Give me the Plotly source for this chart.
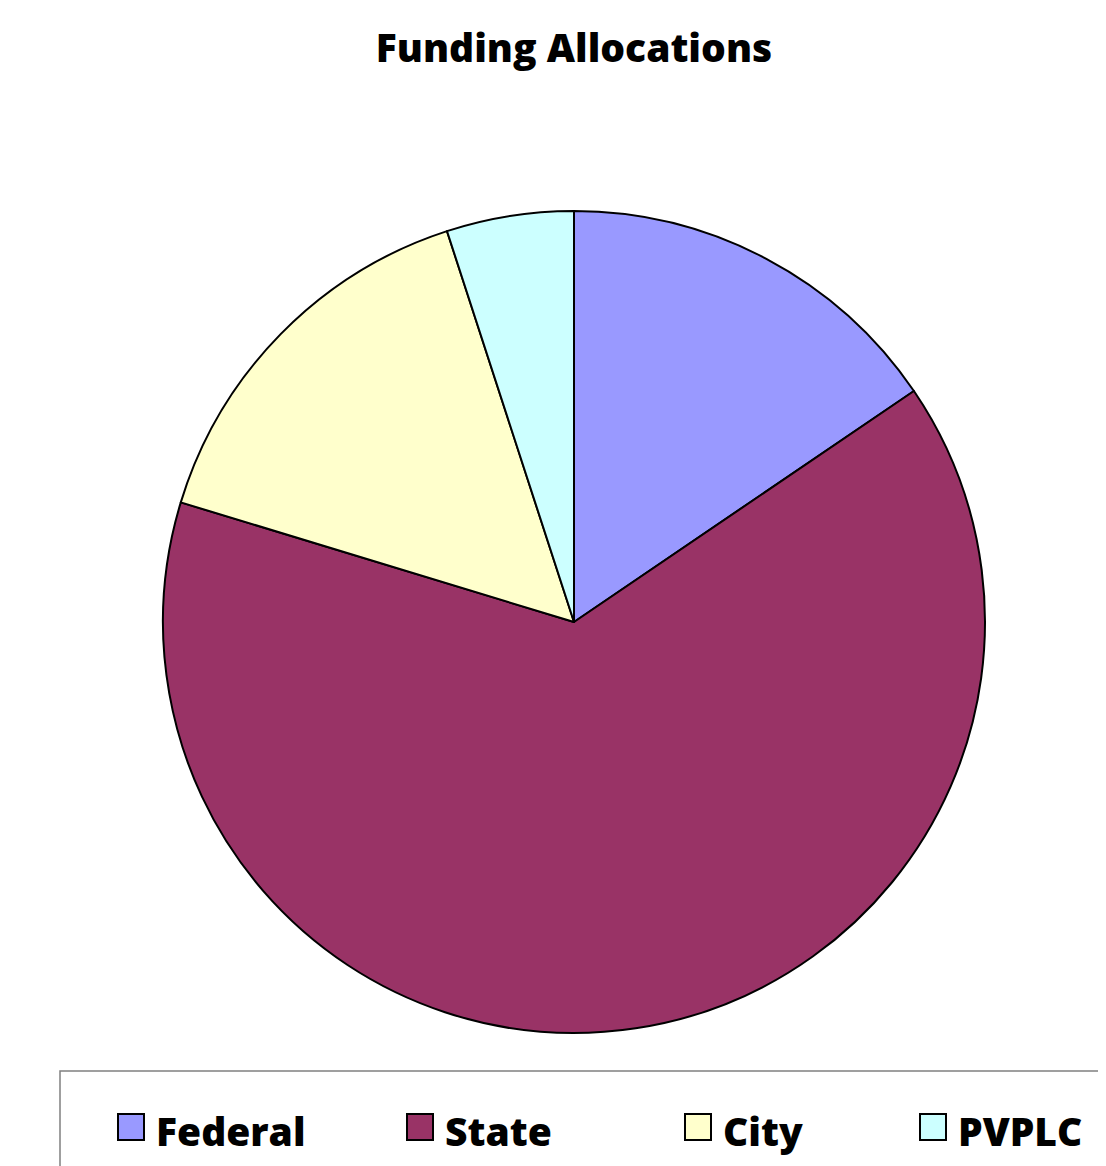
import plotly.graph_objects as go

categories = ["Federal", "State", "City", "PVPLC"]
values = [15.5, 64.2, 15.3, 5.0]
colors = ["#9999FF", "#993366", "#FFFFCC", "#CCFFFF"]

W, H = 1106, 1166
OFF = 8  # browser body margin
FONT = "Open Sans"

def px(x):
    return (x - OFF) / W

def py(y):
    return 1 - (y - OFF) / H

fig = go.Figure()
fig.add_trace(go.Pie(
    labels=categories,
    values=values,
    marker=dict(colors=colors, line=dict(color="black", width=2)),
    sort=False,
    direction="clockwise",
    rotation=0,
    textinfo="none",
    hoverinfo="label+value+percent",
    showlegend=False,
    domain=dict(x=[px(163), px(985)], y=[py(1033), py(211)]),
))

# Manual legend (Excel-style) built from the category list
legend_x = [118, 407, 685, 920]
shapes = [dict(type="rect", xref="paper", yref="paper",
               x0=px(60), x1=px(1130), y0=py(1190), y1=py(1071),
               line=dict(color="#808080", width=1.5), fillcolor="rgba(0,0,0,0)")]
annotations = []
for name, col, lx in zip(categories, colors, legend_x):
    shapes.append(dict(type="rect", xref="paper", yref="paper",
                       x0=px(lx), x1=px(lx + 26), y0=py(1140), y1=py(1114),
                       line=dict(color="black", width=2), fillcolor=col))
    annotations.append(dict(text=name, xref="paper", yref="paper",
                            x=px(lx + 36), y=py(1130), xanchor="left", yanchor="middle",
                            showarrow=False,
                            font=dict(family=FONT, size=39, color="black", weight=800)))

fig.update_layout(
    width=W, height=H,
    autosize=False,
    margin=dict(l=0, r=0, t=0, b=0),
    paper_bgcolor="white",
    plot_bgcolor="white",
    title=dict(text="Funding Allocations", x=px(574), xanchor="center",
               y=py(48), yanchor="middle",
               font=dict(family=FONT, size=39, color="black", weight=800)),
    shapes=shapes,
    annotations=annotations,
)

fig.write_html("out.html")
